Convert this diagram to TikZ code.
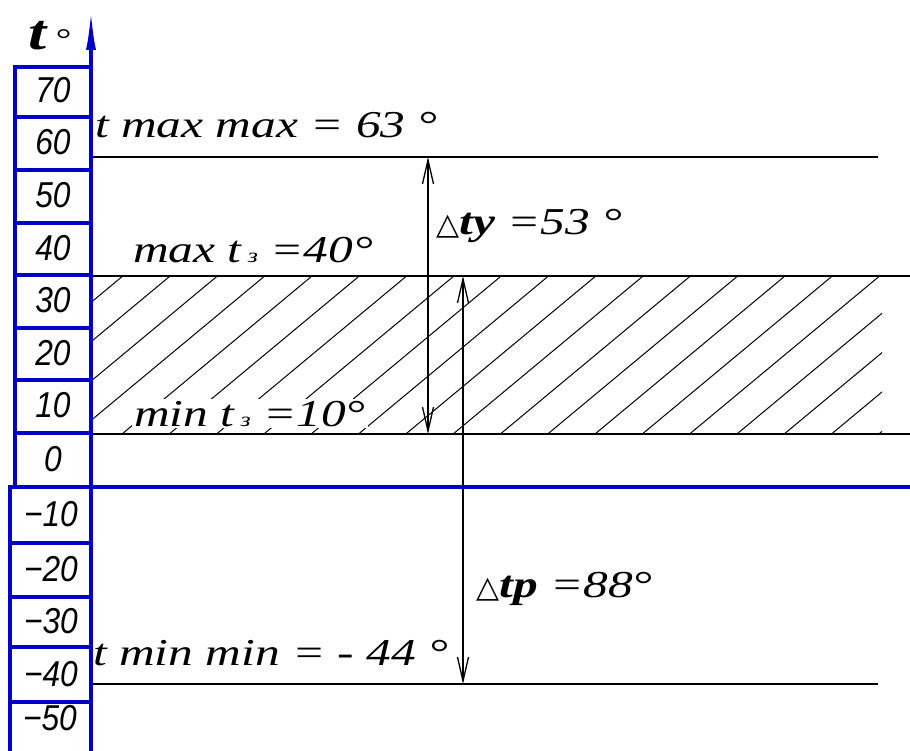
\documentclass[tikz,border=0pt]{standalone}
\usepackage{fontspec}
\usetikzlibrary{arrows.meta}
\newfontfamily\lbl{Liberation Serif}[FakeStretch=1.3]
\newfontfamily\scl{Liberation Sans}[FakeStretch=0.88]
\newfontfamily\symf{DejaVu Sans}
\definecolor{axisblue}{RGB}{0,0,200}
\newcommand\zsub{{\fontsize{20}{20}\selectfont з}}
\newcommand\trisym{{\symf\fontsize{30}{30}\selectfont △}}
\tikzset{
  bl/.style={draw=axisblue, line width=3.2pt},
  blk/.style={draw=black, line width=1.3pt},
  hatchline/.style={draw=black, line width=1pt},
  lab/.style={inner sep=0pt, anchor=base west, font=\lbl\itshape\fontsize{38}{40}\selectfont},
  num/.style={inner sep=0pt, anchor=center, font=\scl\itshape\fontsize{36}{38}\selectfont},
  dimarrow/.style={draw=black, line width=1.3pt,
    {Straight Barb[length=24pt,width=11pt]}-{Straight Barb[length=24pt,width=11pt]}},
}
\begin{document}
\begin{tikzpicture}[x=1pt,y=-1pt]
\useasboundingbox (0,0) rectangle (910,751);
\fill[white] (0,0) rectangle (910,751);

% hatching
\begin{scope}
  \clip (91,276) rectangle (882,434);
  \foreach \k in {-5,...,16}
    \draw[hatchline] ({122+47.3*\k},434) -- ++(190,-158);
\end{scope}

% text labels
\node[lab] (tmax) at (95,138) {t max max = 63 °};
\node[lab] (maxz) at (133,263) {max t\,\zsub\ =40°};
\node[lab, fill=white, inner xsep=2pt, inner ysep=2pt] (minz) at (132,426) {min t\,\zsub\ =10°};
\node[lab] (tmin) at (93,665) {t min min = - 44 °};
\node[lab] (dty) at (436,235) {\trisym\textbf{ty} =53 °};
\node[lab] (dtp) at (476,597) {\trisym\textbf{tp} =88°};
\node[lab, font=\lbl\itshape\fontsize{50}{52}\selectfont] (tdeg) at (28,50) {\textbf{t}\,{\fontsize{30}{30}\selectfont °}};

% coordinates for lines
\coordinate (l1a) at (91,157);  \coordinate (l1b) at (878,157);
\coordinate (l2a) at (91,276);  \coordinate (l2b) at (910,276);
\coordinate (l3a) at (91,434);  \coordinate (l3b) at (910,434);
\coordinate (l4a) at (91,487);  \coordinate (l4b) at (910,487);
\coordinate (l5a) at (91,684);  \coordinate (l5b) at (878,684);
\coordinate (ya) at (428,157);  \coordinate (yb) at (428,434);
\coordinate (pa) at (463,276);  \coordinate (pb) at (463,684);
\coordinate (axB) at (91,751);  \coordinate (axT) at (91,10);

\draw[blk] (l1a) -- (l1b);
\draw[blk] (l2a) -- (l2b);
\draw[blk] (l3a) -- (l3b);
\draw[blk] (l5a) -- (l5b);
\draw[dimarrow] (ya) -- (yb);
\draw[dimarrow] (pa) -- (pb);

% scale column
\foreach \a/\b in {67/117,117/170,170/223,223/275,275/328,328/380,380/433,433/487}
  \draw[bl] (15,\a) rectangle (91,\b);
\foreach \a/\b in {487/543,543/597,597/647,647/702,702/770}
  \draw[bl] (10,\a) rectangle (91,\b);
\draw[bl] (l4a) -- (l4b);
\draw[bl, -{Latex[length=40pt,width=10pt]}] (axB) -- (axT);

\node[num] (s70) at (53,90) {70};
\node[num] (s60) at (53,142) {60};
\node[num] (s50) at (53,195) {50};
\node[num] (s40) at (53,248) {40};
\node[num] (s30) at (53,300) {30};
\node[num] (s20) at (53,353) {20};
\node[num] (s10) at (53,405) {10};
\node[num] (s0) at (53,459) {0};
\node[num] (sm10) at (51,514) {−10};
\node[num] (sm20) at (51,569) {−20};
\node[num] (sm30) at (51,621) {−30};
\node[num] (sm40) at (51,674) {−40};
\node[num] (sm50) at (50,718) {−50};
\end{tikzpicture}
\end{document}
